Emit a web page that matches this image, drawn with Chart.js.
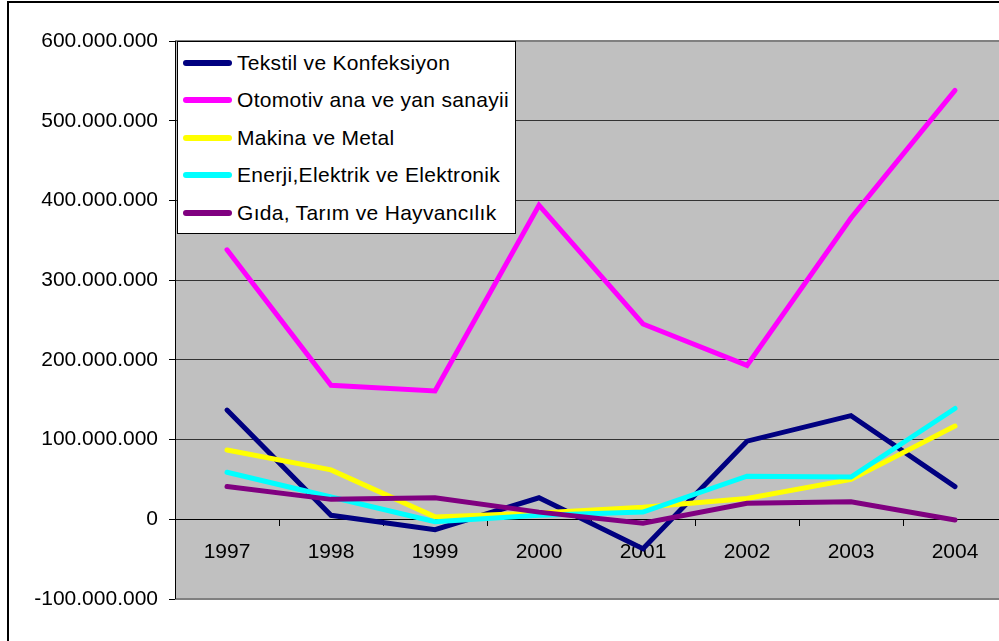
<!DOCTYPE html>
<html>
<head>
<meta charset="utf-8">
<script src="https://cdn.jsdelivr.net/npm/chart.js@4/dist/chart.umd.min.js"></script>
<style>
  body { margin: 0; overflow: hidden; background: #fff; font-family: "Liberation Sans", Arial, sans-serif; }
  #frame { position: absolute; left: 7px; top: 1px; width: 1100px; height: 1000px; border: 2px solid #000; }
  #wrap { position: absolute; left: 0; top: 0; width: 1008px; height: 641px; }
  #legend { position: absolute; left: 177px; top: 41px; width: 337px; height: 189px; padding-top: 2px;
            background: #fff; border: 1px solid #000; font-size: 21px; letter-spacing: 0.3px; color: #000; }
  .row { height: 37.5px; display: flex; align-items: center; }
  .swatch { width: 49px; height: 6px; border-radius: 3px; margin-left: 5px; margin-right: 5px; }
</style>
</head>
<body>
<div id="frame"></div>
<div id="wrap"><canvas id="myChart"></canvas></div>
<div id="legend"></div>
<script>
const years = ["1997", "1998", "1999", "2000", "2001", "2002", "2003", "2004"];
const seriesNames = ["Tekstil ve Konfeksiyon", "Otomotiv ana ve yan sanayii", "Makina ve Metal",
                     "Enerji,Elektrik ve Elektronik", "Gıda, Tarım ve Hayvancılık"];
const colors = ["#000080", "#FF00FF", "#FFFF00", "#00FFFF", "#800080"];

const tekstil  = [137e6, 5e6, -13e6, 27e6, -37e6, 98e6, 130e6, 41e6];
const otomotiv = [338e6, 168e6, 161e6, 394e6, 245e6, 193e6, 378e6, 538e6];
const makina   = [87e6, 62e6, 3e6, 8e6, 15e6, 26e6, 50e6, 117e6];
const enerji   = [59e6, 28e6, -3e6, 5e6, 9e6, 54e6, 53e6, 139e6];
const gida     = [41e6, 25e6, 27e6, 9e6, -5e6, 20e6, 22e6, -1e6];

const yTicks = { min: -100e6, max: 600e6, step: 100e6 };

function fmt(v) {
  const s = String(Math.abs(v)).replace(/\B(?=(\d{3})+(?!\d))/g, ".");
  return (v < 0 ? "-" : "") + s;
}

const allSeries = [tekstil, otomotiv, makina, enerji, gida];
const dataset = allSeries.map((d, i) => ({
  label: seriesNames[i],
  data: d,
  borderColor: colors[i],
  backgroundColor: colors[i],
  borderWidth: 5,
  borderCapStyle: "round",
  pointRadius: 0,
  tension: 0,
  order: allSeries.length - i
}));

// gray plot area and its borders
const plotBg = {
  id: "plotBg",
  beforeDraw(c) {
    const a = c.chartArea, ctx = c.ctx;
    ctx.save();
    ctx.fillStyle = "#C0C0C0";
    ctx.fillRect(a.left, a.top, a.right - a.left, a.bottom - a.top);
    ctx.restore();
  },
  afterDraw(c) {
    const a = c.chartArea, ctx = c.ctx;
    ctx.save();
    ctx.strokeStyle = "#808080";
    ctx.lineWidth = 2;
    ctx.beginPath();
    ctx.moveTo(a.left, a.top); ctx.lineTo(a.right, a.top);
    ctx.moveTo(a.left, a.bottom); ctx.lineTo(a.right, a.bottom);
    ctx.moveTo(a.right, a.top); ctx.lineTo(a.right, a.bottom);
    ctx.stroke();
    ctx.strokeStyle = "#000";
    ctx.lineWidth = 1;
    ctx.beginPath();
    ctx.moveTo(a.left + 0.5, a.top); ctx.lineTo(a.left + 0.5, a.bottom);
    ctx.stroke();
    ctx.restore();
  }
};

function drawChart(id, data, labels) {
  const font = { family: "'Liberation Sans', Arial, sans-serif", size: 21 };
  return new Chart(document.getElementById(id), {
    type: "line",
    data: { labels: labels, datasets: data },
    options: {
      responsive: true,
      maintainAspectRatio: false,
      animation: false,
      layout: { padding: { left: 0, top: 41, right: 1, bottom: 42 } },
      plugins: { legend: { display: false }, tooltip: { enabled: false } },
      scales: {
        x: {
          type: "category",
          position: { y: 0 },
          offset: true,
          grid: { drawOnChartArea: false, offset: true, tickLength: 6, color: "#000" },
          border: { display: true, color: "#000", width: 1 },
          ticks: { color: "#000", font: font, padding: 14, maxRotation: 0 }
        },
        y: {
          min: yTicks.min,
          max: yTicks.max,
          afterFit(scale) { scale.width = 175; },
          grid: { color: "#333", tickLength: 6, tickColor: "#000" },
          border: { display: false },
          ticks: { stepSize: yTicks.step, color: "#000", font: font, padding: 11, callback: v => fmt(v) }
        }
      }
    },
    plugins: [plotBg]
  });
}

function drawLegend() {
  const box = document.getElementById("legend");
  seriesNames.forEach((name, i) => {
    const row = document.createElement("div");
    row.className = "row";
    const sw = document.createElement("div");
    sw.className = "swatch";
    sw.style.background = colors[i];
    const txt = document.createElement("span");
    txt.textContent = name;
    row.appendChild(sw);
    row.appendChild(txt);
    box.appendChild(row);
  });
}

drawChart("myChart", dataset, years);
drawLegend();
</script>
</body>
</html>
